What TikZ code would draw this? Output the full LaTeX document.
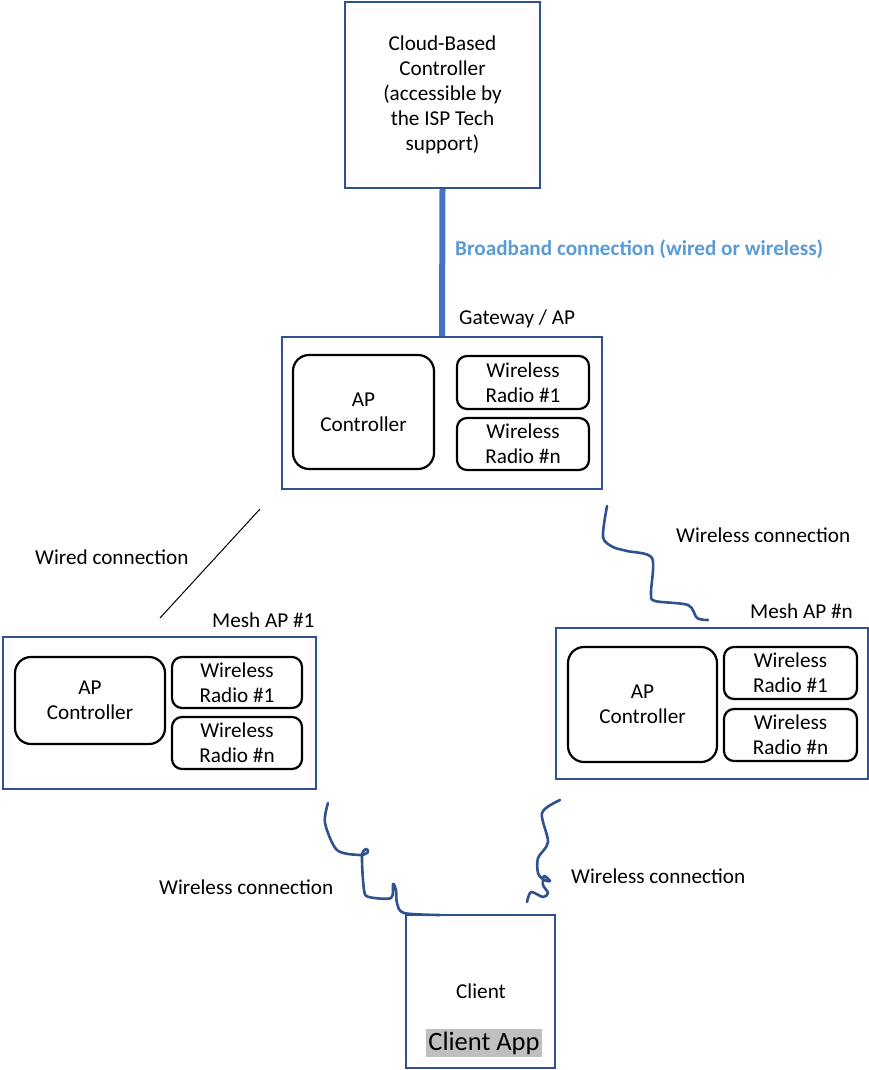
\documentclass[tikz,border=0pt]{standalone}
\usepackage{fontspec}
\setmainfont{Carlito}
\begin{document}
\begin{tikzpicture}[x=1pt,y=-1pt,
  every node/.style={font=\fontsize{21.2}{25}\selectfont, align=center, inner sep=0pt},
  bluebox/.style={draw=boxblue, line width=2.2pt},
  ctrlbox/.style={draw=black, line width=2.2pt, rounded corners=16pt},
  radiobox/.style={draw=black, line width=2.2pt, rounded corners=10pt},
  wire/.style={draw=wireblue, line width=2.6pt, line cap=round, line join=round},
  lbl/.style={anchor=west}]
\definecolor{boxblue}{RGB}{47,82,143}
\definecolor{wireblue}{RGB}{47,82,143}
\definecolor{linkblue}{RGB}{68,114,196}
\definecolor{labelblue}{RGB}{91,155,213}
\definecolor{hlgray}{RGB}{191,191,191}
\useasboundingbox (0,0) rectangle (869,1070);

% cloud controller and broadband link
\node[bluebox, minimum width=195pt, minimum height=186pt] (cloud) at (442.5,95)
  {Cloud-Based\\Controller\\(accessible by\\the ISP Tech\\support)};
\node[bluebox, minimum width=320pt, minimum height=152pt] (gw) at (442,413) {};
\draw[linkblue, line width=6pt] (cloud.south) -- (gw.north);
\node[lbl, font=\fontsize{21.2}{25}\selectfont\bfseries, text=labelblue] (bb) at (455,249)
  {Broadband connection (wired or wireless)};
\node[lbl] (gwl) at (459,319) {Gateway / AP};

% gateway internals
\node[ctrlbox, minimum width=141pt, minimum height=114pt] (gwc) at (363.5,412) {AP\\Controller};
\node[radiobox, minimum width=132pt, minimum height=53pt] (gwr1) at (523,382.5) {Wireless\\Radio \#1};
\node[radiobox, minimum width=132pt, minimum height=52pt] (gwrn) at (523,444) {Wireless\\Radio \#n};

% mesh AP #1
\node[lbl] (m1l) at (212,620) {Mesh AP \#1};
\node[bluebox, minimum width=313pt, minimum height=152pt] (m1) at (159.5,713) {};
\node[ctrlbox, minimum width=150pt, minimum height=87pt] (m1c) at (90,700.5) {AP\\Controller};
\node[radiobox, minimum width=130pt, minimum height=51pt] (m1r1) at (237,682.5) {Wireless\\Radio \#1};
\node[radiobox, minimum width=130pt, minimum height=52pt] (m1rn) at (237,743) {Wireless\\Radio \#n};

% mesh AP #n
\node[lbl] (mnl) at (750,611) {Mesh AP \#n};
\node[bluebox, minimum width=312pt, minimum height=151pt] (mn) at (712,703.5) {};
\node[ctrlbox, minimum width=149pt, minimum height=115pt] (mnc) at (642.5,704.5) {AP\\Controller};
\node[radiobox, minimum width=133pt, minimum height=52pt] (mnr1) at (790.5,673) {Wireless\\Radio \#1};
\node[radiobox, minimum width=133pt, minimum height=52pt] (mnrn) at (790.5,735) {Wireless\\Radio \#n};

% client
\node[bluebox, minimum width=149pt, minimum height=153pt] (client) at (480.5,991.5) {};
\node (clt) at (481,991) {Client};
\node[fill=hlgray, font=\fontsize{26.5}{30}\selectfont, inner xsep=2pt, inner ysep=1pt,
  text depth=6pt, text height=20pt] (app) at (484,1043) {Client App};

% wired link gateway -> mesh AP #1
\coordinate (w1) at (260,509);
\coordinate (w2) at (160,618);
\draw[black, line width=1pt] (w1) -- (w2);
\node[lbl] (wl) at (35,557) {Wired connection};

% wireless link gateway -> mesh AP #n
\coordinate (s1) at (607,506);
\coordinate (s2) at (708,620);
\draw[wire] plot[smooth, tension=0.5] coordinates {(s1) (603,537) (613,547) (627,551)
  (652,558) (651,593) (655,601) (688,605) (697,618) (s2)};
\node[lbl] (wlr) at (676,535) {Wireless connection};

% wireless link mesh AP #1 -> client
\coordinate (t1) at (328,803);
\coordinate (t2) at (440,915);
\draw[wire] plot[smooth, tension=0.5] coordinates {(t1) (325,823) (337,850) (360,855)
  (368,852) (366,849) (362,856) (364,890) (369,897) (391,898) (393,884) (396,890)
  (397,903) (404,913) (t2)};
\node[lbl] (wlb1) at (159,887) {Wireless connection};

% wireless link mesh AP #n -> client
\coordinate (u1) at (560,800);
\coordinate (u2) at (527,902);
\draw[wire] plot[smooth, tension=0.5] coordinates {(u1) (542,813) (548,842) (538,858)
  (538,873) (544,880) (550,881) (544,876) (543,885) (548,893) (543,897) (531,892) (u2)};
\node[lbl] (wlb2) at (571,876) {Wireless connection};
\end{tikzpicture}
\end{document}
